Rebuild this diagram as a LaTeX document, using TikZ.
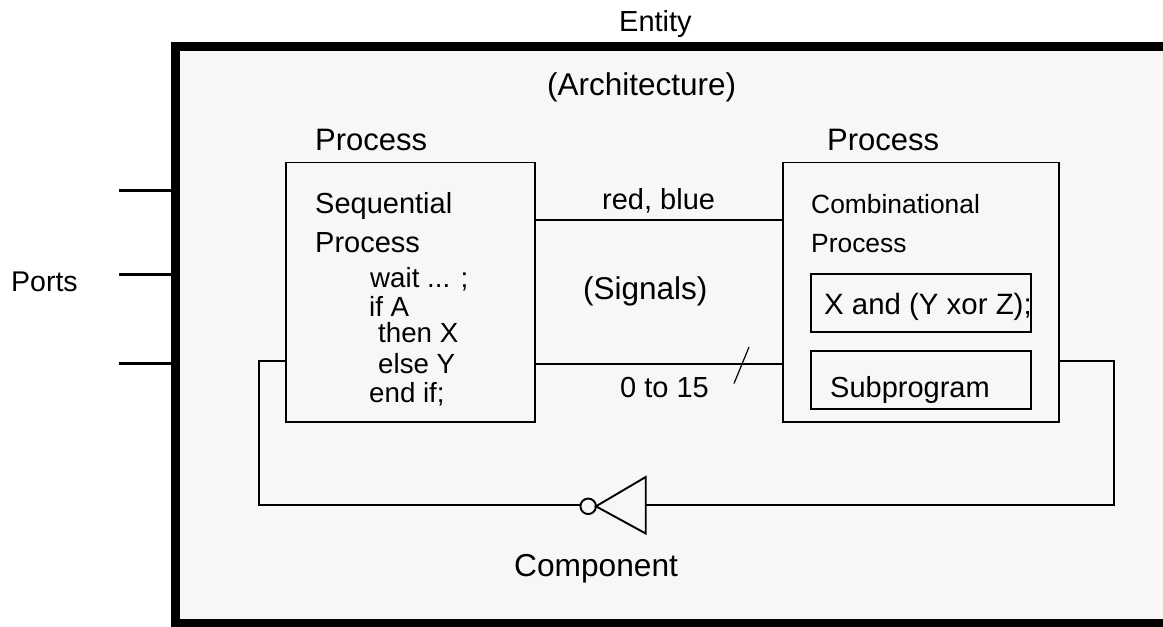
\documentclass[tikz,border=0pt]{standalone}
\usepackage{fontspec}
\setmainfont{Liberation Sans}
\definecolor{panel}{HTML}{F7F7F7}
\newcommand{\fs}[1]{\fontsize{#1}{#1}\selectfont}
\tikzset{x=1pt,y=-1pt,
 wire/.style={draw=black,line width=1.9pt},
 portline/.style={draw=black,line width=3pt},
 lab/.style={inner sep=0pt,anchor=base west,font=\fs{29}},
 boxn/.style={draw=black,line width=1.9pt,inner sep=0pt,outer sep=0pt,anchor=north west}}
\begin{document}
\begin{tikzpicture}
\useasboundingbox (0,0) rectangle (1163,627);
\fill[black] (171,42) rectangle (1163,627);
\fill[panel] (180,51) rectangle (1163,619);
% ports
\coordinate (p1) at (119,190); \coordinate (q1) at (171,190);
\coordinate (p2) at (119,274); \coordinate (q2) at (171,274);
\coordinate (p3) at (119,363.5); \coordinate (q3) at (171,363.5);
\draw[portline] (p1) -- (q1);
\draw[portline] (p2) -- (q2);
\draw[portline] (p3) -- (q3);
% process boxes
\node[boxn,minimum width=249pt,minimum height=259.5pt] (seq) at (286,162.5) {};
\node[boxn,minimum width=276pt,minimum height=259.5pt] (comb) at (783,162.5) {};
\node[boxn,minimum width=220pt,minimum height=58pt] (expr) at (811,274) {};
\node[boxn,minimum width=220pt,minimum height=58pt] (sub) at (811,351) {};
% inverter
\coordinate (tl) at (645.7,477); \coordinate (bl) at (645.7,533.5);
\node[draw=black,line width=1.9pt,circle,minimum size=15.5pt,inner sep=0pt,outer sep=0pt] (bub) at (588.2,506.3) {};
\draw[wire,line join=miter] (tl) -- (bl) -- (bub.east) -- cycle;
% connectors
\coordinate (s1a) at (seq.east |- 0,220); \coordinate (s1b) at (comb.west |- 0,220);
\draw[wire] (s1a) -- (s1b);
\coordinate (s2a) at (seq.east |- 0,364); \coordinate (s2b) at (comb.west |- 0,364);
\draw[wire] (s2a) -- (s2b);
\coordinate (sl1) at (749,347); \coordinate (sl2) at (734,383.5);
\draw[draw=black,line width=1.2pt] (sl1) -- (sl2);
\coordinate (la) at (seq.west |- 0,361); \coordinate (lb) at (259,361); \coordinate (lc) at (259,505);
\draw[wire,line join=miter] (la) -- (lb) -- (lc) -- (lc -| bub.west);
\coordinate (ra) at (comb.east |- 0,361); \coordinate (rb) at (1114,361); \coordinate (rc) at (1114,505); \coordinate (rd) at (645.7,505);
\draw[wire,line join=miter] (ra) -- (rb) -- (rc) -- (rd);
% labels
\node[lab] (t1) at (619,31) {Entity};
\node[lab,font=\fs{31.5}] (t2) at (547,95) {(Architecture)};
\node[lab,font=\fs{31}] (t3) at (315,150) {Process};
\node[lab,font=\fs{31}] (t4) at (827,150) {Process};
\node[lab,font=\fs{28.5}] (t5) at (11,291) {Ports};
\node[lab] (t6) at (315,213) {Sequential};
\node[lab] (t7) at (315,252) {Process};
\node[lab,font=\fs{27.7}] (c1) at (370,287) {wait ... ;};
\node[lab,font=\fs{27.7}] (c2) at (369,316) {if A};
\node[lab,font=\fs{27.7}] (c3) at (378,342) {then X};
\node[lab,font=\fs{27.7}] (c4) at (378,373) {else Y};
\node[lab,font=\fs{27.7}] (c5) at (369,402) {end if;};
\node[lab] (t8) at (602,209) {red, blue};
\node[lab,font=\fs{31.5}] (t9) at (583,299) {(Signals)};
\node[lab] (t10) at (620,397) {0 to 15};
\node[lab,font=\fs{26.4}] (t11) at (811,213) {Combinational};
\node[lab,font=\fs{26.4}] (t12) at (811,252) {Process};
\node[lab,font=\fs{29.4}] (t13) at (824,314) {X and (Y xor Z);};
\node[lab] (t14) at (830,397) {Subprogram};
\node[lab,font=\fs{31.7}] (t15) at (514,576) {Component};
\end{tikzpicture}
\end{document}
